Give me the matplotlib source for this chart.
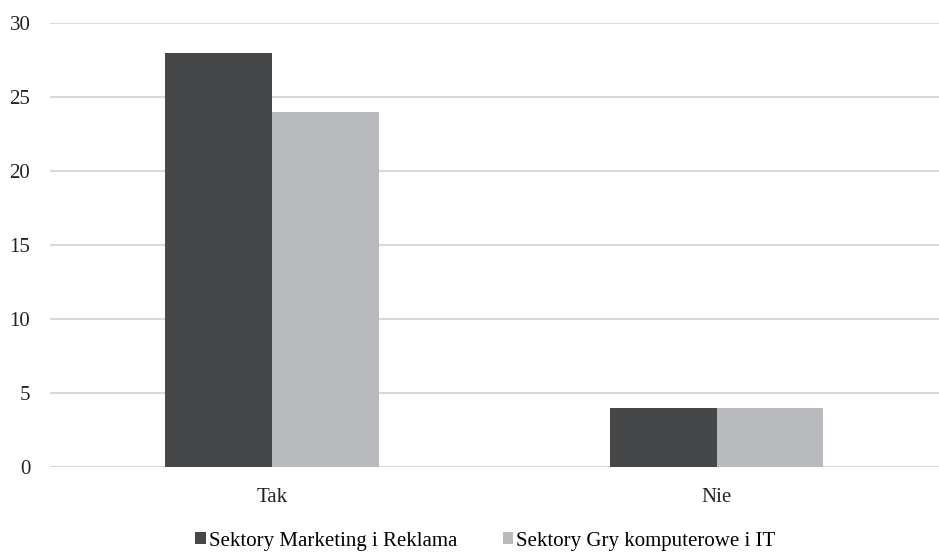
import matplotlib
matplotlib.use("Agg")
import matplotlib.pyplot as plt
import numpy as np

plt.rcParams['font.family'] = ['Liberation Serif', 'DejaVu Serif']

categories = ['Tak', 'Nie']
series_names = ['Sektory Marketing i Reklama', 'Sektory Gry komputerowe i IT']
marketing = [28, 4]
gry_it = [24, 4]
colors = ['#464749', '#b9babd']

fig = plt.figure(figsize=(9.39, 5.55), dpi=100)
ax = fig.add_axes([0.053, 0.1586, 0.947, 0.80])

x = np.arange(len(categories))
w = 0.24
ax.bar(x - w / 2, marketing, w, color=colors[0], label=series_names[0], zorder=3)
ax.bar(x + w / 2, gry_it, w, color=colors[1], label=series_names[1], zorder=3)

ax.set_xlim(-0.5, 1.5)
ax.set_ylim(0, 30)
ax.set_yticks(range(0, 31, 5))
ax.set_xticks(x)
ax.set_xticklabels(categories)
ax.yaxis.grid(True, color='#d9d9d9', linewidth=1.5, zorder=0)
for s in ax.spines.values():
    s.set_visible(False)
ax.axhline(0, color='#d9d9d9', linewidth=1.5, zorder=2)
ax.tick_params(axis='both', length=0, labelsize=15, colors='#222222')
ax.tick_params(axis='y', pad=14)
ax.tick_params(axis='x', pad=15)

fig.legend(loc='center', bbox_to_anchor=(0.517, 0.025), ncol=2, frameon=False,
           fontsize=15, handlelength=0.5, handleheight=0.5, handletextpad=0.15,
           columnspacing=2.2)

fig.savefig('out.png', dpi=100)
